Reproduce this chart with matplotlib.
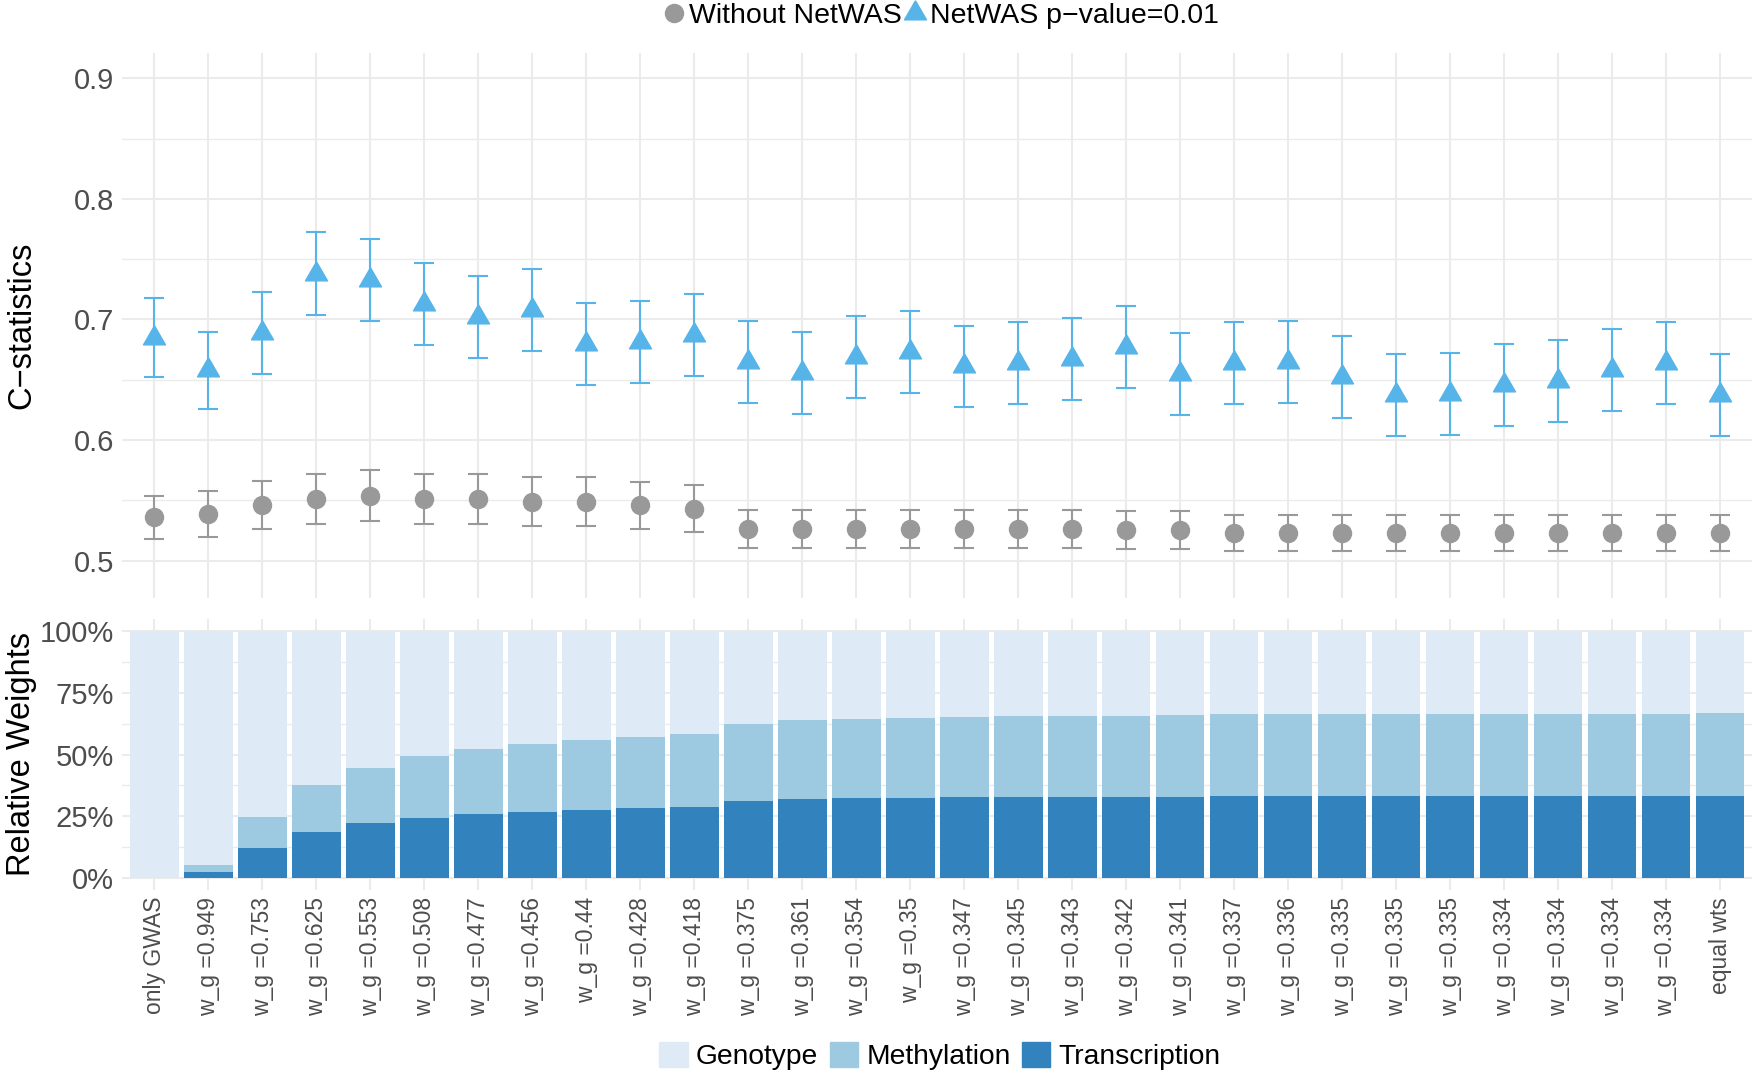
import numpy as np
import matplotlib.pyplot as plt
from matplotlib.lines import Line2D
from matplotlib.patches import Patch
from matplotlib.ticker import FixedLocator, PercentFormatter

plt.rcParams['font.family'] = ['Liberation Sans', 'DejaVu Sans']

labels = ["only GWAS", "w_g =0.949", "w_g =0.753", "w_g =0.625", "w_g =0.553",
          "w_g =0.508", "w_g =0.477", "w_g =0.456", "w_g =0.44", "w_g =0.428",
          "w_g =0.418", "w_g =0.375", "w_g =0.361", "w_g =0.354", "w_g =0.35",
          "w_g =0.347", "w_g =0.345", "w_g =0.343", "w_g =0.342", "w_g =0.341",
          "w_g =0.337", "w_g =0.336", "w_g =0.335", "w_g =0.335", "w_g =0.335",
          "w_g =0.334", "w_g =0.334", "w_g =0.334", "w_g =0.334", "equal wts"]

# C-statistics with CI half-widths
netwas = [0.685, 0.658, 0.689, 0.738, 0.733, 0.713, 0.702, 0.708, 0.680, 0.681,
          0.687, 0.665, 0.656, 0.669, 0.673, 0.661, 0.664, 0.667, 0.677, 0.655,
          0.664, 0.665, 0.652, 0.637, 0.638, 0.646, 0.649, 0.658, 0.664, 0.637]
netwas_ci = [0.033, 0.032, 0.034, 0.0345, 0.034, 0.034, 0.034, 0.034, 0.034, 0.034,
             0.034, 0.034, 0.034, 0.034, 0.034, 0.034, 0.034, 0.034, 0.034, 0.034,
             0.034, 0.034, 0.034, 0.034, 0.034, 0.034, 0.034, 0.034, 0.034, 0.034]
without = [0.536, 0.539, 0.546, 0.551, 0.554, 0.551, 0.551, 0.549, 0.549, 0.546,
           0.543, 0.526, 0.526, 0.526, 0.526, 0.526, 0.526, 0.526, 0.5255, 0.5255,
           0.523, 0.523, 0.523, 0.523, 0.523, 0.523, 0.523, 0.523, 0.523, 0.523]
without_ci = [0.018, 0.019, 0.020, 0.021, 0.021, 0.021, 0.021, 0.020, 0.020, 0.0196,
              0.0196, 0.0157, 0.0157, 0.0157, 0.0157, 0.0157, 0.0157, 0.0157, 0.0155, 0.0155,
              0.0147, 0.0147, 0.0147, 0.0147, 0.0147, 0.0147, 0.0147, 0.0147, 0.0147, 0.0147]

# relative weights of each data type
genotype = [1.0, 0.949, 0.753, 0.625, 0.553, 0.508, 0.477, 0.456, 0.44, 0.428,
            0.418, 0.375, 0.361, 0.354, 0.35, 0.347, 0.345, 0.343, 0.342, 0.341,
            0.337, 0.336, 0.335, 0.335, 0.335, 0.334, 0.334, 0.334, 0.334, 0.3334]
transcription = [0.0, 0.022, 0.120, 0.184, 0.222, 0.242, 0.260, 0.268, 0.276, 0.284,
                 0.288, 0.311, 0.319, 0.324, 0.325, 0.326, 0.327, 0.328, 0.328, 0.329,
                 0.331, 0.331, 0.332, 0.332, 0.332, 0.332, 0.332, 0.332, 0.332, 0.3333]
methylation = [1 - g - t for g, t in zip(genotype, transcription)]

grey = '#999999'
blue = '#56B4E9'
c_gen, c_meth, c_trans = '#deebf7', '#9ecae1', '#3182bd'
grid_c = '#EBEBEB'
tick_c = '#4D4D4D'

x = np.arange(len(labels))
W, H = 1755, 1075

fig = plt.figure(figsize=(W / 100, H / 100), dpi=100)
ax1 = fig.add_axes([122.1 / W, 1 - 598 / H, 1630.3 / W, 545 / H])
ax2 = fig.add_axes([122.1 / W, 1 - 890 / H, 1630.3 / W, 271 / H])

tri = [(0, 1), (-0.866, -0.5), (0.866, -0.5), (0, 1)]

# top panel: C-statistics
ax1.errorbar(x, without, yerr=without_ci, fmt='none', ecolor=grey,
             elinewidth=1.5, capsize=7, capthick=1.5, zorder=3)
ax1.plot(x, without, 'o', ms=13, color=grey, zorder=4)
ax1.errorbar(x, netwas, yerr=netwas_ci, fmt='none', ecolor=blue,
             elinewidth=1.5, capsize=7, capthick=1.5, zorder=3)
ax1.plot(x, netwas, ls='none', marker=tri, ms=18.3, color=blue, zorder=4)

ax1.set_xlim(-0.6, len(labels) - 0.4)
ax1.set_ylim(0.469, 0.921)
ax1.set_xticks(x)
ax1.set_xticklabels([])
ax1.yaxis.set_major_locator(FixedLocator([0.5, 0.6, 0.7, 0.8, 0.9]))
ax1.yaxis.set_minor_locator(FixedLocator([0.55, 0.65, 0.75, 0.85]))
ax1.set_yticklabels(['0.5', '0.6', '0.7', '0.8', '0.9'])

# bottom panel: stacked relative weights
ax2.bar(x, transcription, width=0.9, color=c_trans, zorder=2)
ax2.bar(x, methylation, width=0.9, bottom=transcription, color=c_meth, zorder=2)
ax2.bar(x, genotype, width=0.9, bottom=np.array(transcription) + np.array(methylation),
        color=c_gen, zorder=2)
ax2.set_xlim(-0.6, len(labels) - 0.4)
ax2.set_ylim(-0.05, 1.05)
ax2.set_xticks(x)
ax2.set_xticklabels(labels, rotation=90, fontsize=16.5, color=tick_c)
ax2.yaxis.set_major_locator(FixedLocator([0, 0.25, 0.5, 0.75, 1.0]))
ax2.yaxis.set_minor_locator(FixedLocator([0.125, 0.375, 0.625, 0.875]))
ax2.yaxis.set_major_formatter(PercentFormatter(1.0, decimals=0))

for ax in (ax1, ax2):
    for s in ax.spines.values():
        s.set_visible(False)
    ax.grid(True, which='major', color=grid_c, lw=1.5, zorder=0)
    ax.grid(True, which='minor', axis='y', color=grid_c, lw=1.0, zorder=0)
    ax.set_axisbelow(True)
    ax.tick_params(which='both', length=0)
    ax.tick_params(axis='y', labelsize=21, labelcolor=tick_c, pad=6)
    ax.tick_params(axis='x', pad=5)

fig.text(22 / W, 1 - 325 / H, 'C\u2212statistics', rotation=90,
         ha='center', va='center', fontsize=23.5)
fig.text(22 / W, 1 - 754 / H, 'Relative Weights', rotation=90,
         ha='center', va='center', fontsize=23.5)

top_handles = [Line2D([], [], ls='none', marker='o', ms=13, color=grey),
               Line2D([], [], ls='none', marker=tri, ms=18.3, color=blue)]
fig.legend(top_handles, ['Without NetWAS', 'NetWAS p\u2212value=0.01'],
           loc='center', bbox_to_anchor=(940 / W, 1 - 16 / H), ncol=2,
           frameon=False, fontsize=20.5, handlelength=0.9, handletextpad=0.1,
           columnspacing=0.0, borderpad=0, borderaxespad=0)

bot_handles = [Patch(color=c_gen), Patch(color=c_meth), Patch(color=c_trans)]
fig.legend(bot_handles, ['Genotype', 'Methylation', 'Transcription'],
           loc='center', bbox_to_anchor=(940 / W, 1 - 1056 / H), ncol=3,
           frameon=False, fontsize=20.3, handlelength=1.0, handleheight=1.0,
           handletextpad=0.3, columnspacing=0.4, borderpad=0, borderaxespad=0)

fig.savefig('out.png', dpi=100, facecolor='white')
